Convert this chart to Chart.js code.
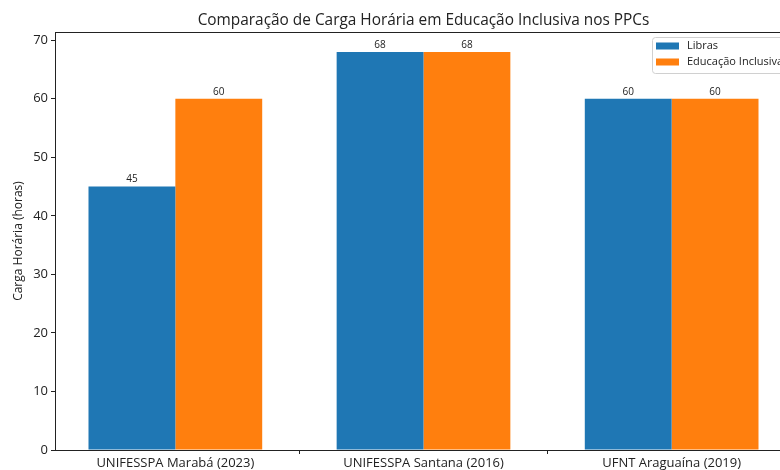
<!DOCTYPE html>
<html>
<head>
<meta charset="utf-8">
<script src="https://cdn.jsdelivr.net/npm/chart.js@4.4.0/dist/chart.umd.min.js"></script>
<style>
  html, body { margin: 0; padding: 0; background: #fff; }
  #wrap { width: 780px; height: 470px; overflow: hidden; position: relative; }
  canvas { display: block; }
</style>
</head>
<body>
<div id="wrap"><canvas id="chart" width="800" height="470"></canvas></div>
<script>
let categories = ["UNIFESSPA Marabá (2023)", "UNIFESSPA Santana (2016)", "UFNT Araguaína (2019)"];
let libras = [45, 68, 60];
let educacaoInclusiva = [60, 68, 60];
let seriesNames = ["Libras", "Educação Inclusiva"];
let yTicks = [0, 10, 20, 30, 40, 50, 60, 70];

let FONT = "'Open Sans'";
let INK = "#222";

function points(values) {
  return values.map(function(v, i) { return { x: i, y: v }; });
}

// titulo, rotulos de valor, legenda e moldura
let extras = {
  id: "extras",
  afterDraw: function(chart) {
    let ctx = chart.ctx;
    let area = chart.chartArea;
    ctx.save();

    ctx.strokeStyle = INK;
    ctx.lineWidth = 1;
    ctx.strokeRect(area.left + 0.5, area.top + 0.5, area.right - area.left, area.bottom - area.top);

    ctx.fillStyle = INK;
    ctx.font = "15.4px " + FONT;
    ctx.textAlign = "center";
    ctx.textBaseline = "alphabetic";
    ctx.fillText("Comparação de Carga Horária em Educação Inclusiva nos PPCs", (area.left + area.right) / 2, 25);

    ctx.font = "10px " + FONT;
    ctx.textBaseline = "bottom";
    chart.data.datasets.forEach(function(ds, di) {
      chart.getDatasetMeta(di).data.forEach(function(bar, i) {
        ctx.fillText(String(ds.data[i].y), bar.x, bar.y - 2);
      });
    });

    // legenda
    let lx = 652, ly = 37;
    ctx.fillStyle = "rgba(255,255,255,0.8)";
    ctx.strokeStyle = "#d0d0d0";
    ctx.beginPath();
    ctx.roundRect(lx + 0.5, ly + 0.5, 140, 36, 3);
    ctx.fill();
    ctx.stroke();
    ctx.font = "11px " + FONT;
    ctx.textAlign = "left";
    ctx.textBaseline = "middle";
    chart.data.datasets.forEach(function(ds, di) {
      let cy = ly + 9 + di * 16;
      ctx.fillStyle = ds.backgroundColor;
      ctx.fillRect(lx + 4, cy - 3.5, 23, 7);
      ctx.fillStyle = INK;
      ctx.fillText(ds.label, lx + 35, cy);
    });
    ctx.restore();
  }
};

let ctx = document.getElementById("chart").getContext("2d");
new Chart(ctx, {
  type: "bar",
  data: {
    datasets: [
      { label: seriesNames[0], data: points(libras), backgroundColor: "#1f77b4", borderWidth: 0 },
      { label: seriesNames[1], data: points(educacaoInclusiva), backgroundColor: "#ff7f0e", borderWidth: 0 }
    ]
  },
  options: {
    responsive: false,
    animation: false,
    categoryPercentage: 0.7,
    barPercentage: 1.0,
    layout: { padding: { top: 32, right: 8, left: 0, bottom: 0 } },
    plugins: {
      legend: { display: false },
      tooltip: { enabled: false }
    },
    scales: {
      x: {
        type: "linear",
        min: -0.485,
        max: 2.485,
        offset: false,
        afterBuildTicks: function(scale) {
          scale.ticks = categories.map(function(c, i) { return { value: i }; });
        },
        afterFit: function(scale) { scale.height = 20; },
        grid: { drawOnChartArea: false, drawTicks: true, tickLength: 4, tickColor: INK },
        border: { display: false },
        ticks: {
          autoSkip: false,
          maxRotation: 0,
          padding: 1,
          color: INK,
          font: { family: FONT, size: 13 },
          callback: function(v) { return categories[v]; }
        }
      },
      y: {
        min: 0,
        max: 71.4,
        afterBuildTicks: function(scale) {
          scale.ticks = yTicks.map(function(v) { return { value: v }; });
        },
        afterFit: function(scale) { scale.width = 55; },
        grid: { drawOnChartArea: false, drawTicks: true, tickLength: 4, tickColor: INK },
        border: { display: false },
        ticks: {
          padding: 3,
          color: INK,
          font: { family: FONT, size: 13 }
        },
        title: {
          display: true,
          text: "Carga Horária (horas)",
          color: INK,
          padding: { top: 11, bottom: 0 },
          font: { family: FONT, size: 12 }
        }
      }
    }
  },
  plugins: [extras]
});
</script>
</body>
</html>
